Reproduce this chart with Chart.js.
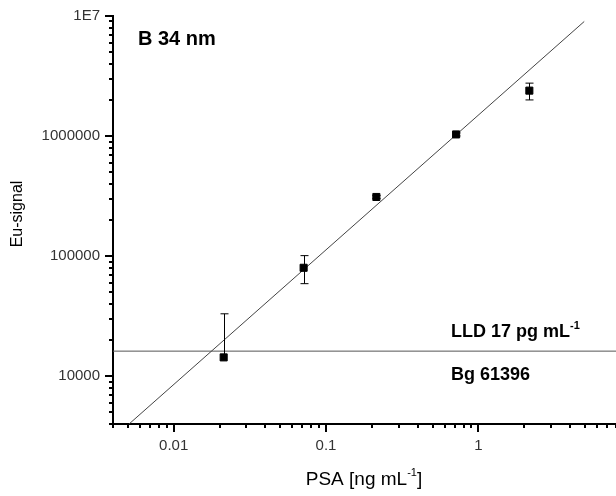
<!DOCTYPE html>
<html>
<head>
<meta charset="utf-8">
<script src="https://cdn.jsdelivr.net/npm/chart.js@4.4.0/dist/chart.umd.min.js"></script>
<style>
  html, body { margin: 0; padding: 0; background: #fff; overflow: hidden; }
  #wrap { width: 616px; height: 496px; }
</style>
</head>
<body>
<div id="wrap"><canvas id="chart"></canvas></div>
<script>
// PSA concentration [ng/mL] and Eu-signal
const psa = [0.0213, 0.0713, 0.214, 0.714, 2.16];
const euSignal = [14350, 80000, 311000, 1032000, 2390000];
const errPlus = [18750, 21000, 9000, 30000, 370000];
const errMinus = [18750, 21000, 9000, 30000, 390000];

// linear fit end points and detection limit line
const fitX = [0.0051, 4.95];
const fitY = [4000, 9000000];
const lldX = [0.004, 8];
const lldY = [16180, 16180];

// axes
const xRange = [0.004, 8];
const yRange = [4000, 1e7];
const xMajor = [0.01, 0.1, 1];
const xMajorLabels = ['0.01', '0.1', '1'];
const yMajor = [1e4, 1e5, 1e6, 1e7];
const yMajorLabels = ['10000', '100000', '1000000', '1E7'];

const FONT = '"Liberation Sans", Arial, sans-serif';

// 1..9 x decade inside range
function logTicks(min, max) {
  const out = [];
  for (let e = Math.floor(Math.log10(min)); e <= Math.ceil(Math.log10(max)); e++) {
    for (let m = 1; m <= 9; m++) {
      const v = +(m * Math.pow(10, e)).toPrecision(6);
      if (v >= min * 0.999 && v <= max * 1.001) out.push({ value: v, major: m === 1 });
    }
  }
  return out;
}

function majorLabel(value, majors, labels) {
  const i = majors.findIndex((m) => Math.abs(m - value) / m < 1e-6);
  return i >= 0 ? labels[i] : '';
}

// superscripted text: base, sup, tail
function richText(ctx, x, y, parts, size, supSize, weight) {
  const f = (s) => (weight ? weight + ' ' : '') + s + 'px ' + FONT;
  let cx = x;
  parts.forEach((p) => {
    ctx.font = f(p.sup ? supSize : size);
    ctx.fillText(p.t, cx, p.sup ? y - size * 0.45 : y);
    cx += ctx.measureText(p.t).width;
  });
}

function richWidth(ctx, parts, size, supSize, weight) {
  const f = (s) => (weight ? weight + ' ' : '') + s + 'px ' + FONT;
  return parts.reduce((w, p) => { ctx.font = f(p.sup ? supSize : size); return w + ctx.measureText(p.t).width; }, 0);
}

// the x axis runs to the right edge of the canvas (cut off in the original)
const fullWidth = {
  id: 'fullWidth',
  afterLayout(chart) {
    const x = chart.scales.x;
    x.right = chart.width;
    x.width = x.right - x.left;
    x.configure();
    chart.chartArea.right = chart.width;
    chart.chartArea.width = chart.width - chart.chartArea.left;
  },
};

// draws tick marks, error bars and text notes
const extras = {
  id: 'extras',
  afterDatasetsDraw(chart) {
    const { ctx, scales: { x, y } } = chart;
    ctx.save();
    ctx.strokeStyle = '#000';
    ctx.lineWidth = 1;
    psa.forEach((px, i) => {
      const cx = Math.round(x.getPixelForValue(px)) + 0.5;
      const cy = y.getPixelForValue(euSignal[i]);
      const top = y.getPixelForValue(euSignal[i] + errPlus[i]);
      const lo = euSignal[i] - errMinus[i];
      ctx.beginPath();
      ctx.moveTo(cx, cy);
      ctx.lineTo(cx, top);
      ctx.moveTo(cx - 4, top);
      ctx.lineTo(cx + 4, top);
      if (lo > 0) {
        const bot = y.getPixelForValue(lo);
        ctx.moveTo(cx, cy);
        ctx.lineTo(cx, bot);
        ctx.moveTo(cx - 4, bot);
        ctx.lineTo(cx + 4, bot);
      }
      ctx.stroke();
    });
    ctx.restore();
  },
  afterDraw(chart) {
    const { ctx, chartArea, scales: { x, y } } = chart;
    ctx.save();

    // tick marks
    ctx.strokeStyle = '#000';
    ctx.lineWidth = 2;
    ctx.beginPath();
    x.ticks.forEach((t) => {
      const px = Math.round(x.getPixelForValue(t.value));
      ctx.moveTo(px, chartArea.bottom);
      ctx.lineTo(px, chartArea.bottom + (t.major ? 8 : 4));
    });
    y.ticks.forEach((t) => {
      const py = Math.round(y.getPixelForValue(t.value));
      ctx.moveTo(chartArea.left, py);
      ctx.lineTo(chartArea.left - (t.major ? 8 : 4), py);
    });
    ctx.stroke();

    // x tick labels
    ctx.fillStyle = '#333';
    ctx.font = '15px ' + FONT;
    ctx.textAlign = 'center';
    ctx.textBaseline = 'middle';
    xMajor.forEach((v, i) => {
      ctx.fillText(xMajorLabels[i], x.getPixelForValue(v), chartArea.bottom + 22);
    });

    // notes
    ctx.fillStyle = '#000';
    ctx.textAlign = 'left';
    ctx.textBaseline = 'alphabetic';
    ctx.font = 'bold 20px ' + FONT;
    ctx.fillText('B 34 nm', chartArea.left + 25, 45);

    richText(ctx, 451, 337, [{ t: 'LLD 17 pg mL' }, { t: '-1', sup: true }], 18, 11, 'bold');
    ctx.font = 'bold 18px ' + FONT;
    ctx.fillText('Bg 61396', 451, 380);

    // x title
    const xt = [{ t: 'PSA [ng mL' }, { t: '-1', sup: true }, { t: ']' }];
    const w = richWidth(ctx, xt, 19, 11, '');
    richText(ctx, 364 - w / 2, 485, xt, 19, 11, '');

    // y title
    ctx.translate(22, 214);
    ctx.rotate(-Math.PI / 2);
    ctx.font = '16px ' + FONT;
    ctx.textAlign = 'center';
    ctx.fillText('Eu-signal', 0, 0);

    ctx.restore();
  },
};

new Chart(document.getElementById('chart'), {
  type: 'scatter',
  data: {
    datasets: [
      {
        label: 'fit',
        data: fitX.map((v, i) => ({ x: v, y: fitY[i] })),
        showLine: true,
        borderColor: '#444',
        borderWidth: 1,
        pointRadius: 0,
        order: 2,
      },
      {
        label: 'LLD',
        data: lldX.map((v, i) => ({ x: v, y: lldY[i] })),
        showLine: true,
        borderColor: '#555',
        borderWidth: 1,
        pointRadius: 0,
        order: 3,
      },
      {
        label: 'Eu-signal',
        data: psa.map((v, i) => ({ x: v, y: euSignal[i] })),
        pointStyle: 'rect',
        pointRadius: 5,
        pointBorderWidth: 1,
        pointBackgroundColor: '#000',
        pointBorderColor: '#000',
        order: 1,
      },
    ],
  },
  options: {
    responsive: true,
    maintainAspectRatio: false,
    animation: false,
    layout: { padding: { top: 16, left: 0, right: 0, bottom: 0 } },
    plugins: { legend: { display: false }, tooltip: { enabled: false } },
    scales: {
      x: {
        type: 'logarithmic',
        min: xRange[0],
        max: xRange[1],
        afterBuildTicks: (s) => { s.ticks = logTicks(xRange[0], xRange[1]); },
        afterFit: (s) => { s.height = 72; },
        grid: { display: false, drawTicks: false },
        border: { display: true, color: '#000', width: 2 },
        ticks: { display: false },
      },
      y: {
        type: 'logarithmic',
        min: yRange[0],
        max: yRange[1],
        afterBuildTicks: (s) => { s.ticks = logTicks(yRange[0], yRange[1]); },
        afterFit: (s) => { s.width = 113; s.paddingTop = 0; s.paddingBottom = 0; },
        grid: { display: false, drawTicks: false },
        border: { display: true, color: '#000', width: 2 },
        ticks: {
          autoSkip: false,
          padding: 13,
          color: '#333',
          font: { family: FONT, size: 15 },
          callback: (v) => majorLabel(v, yMajor, yMajorLabels),
        },
      },
    },
  },
  plugins: [fullWidth, extras],
});
</script>
</body>
</html>
